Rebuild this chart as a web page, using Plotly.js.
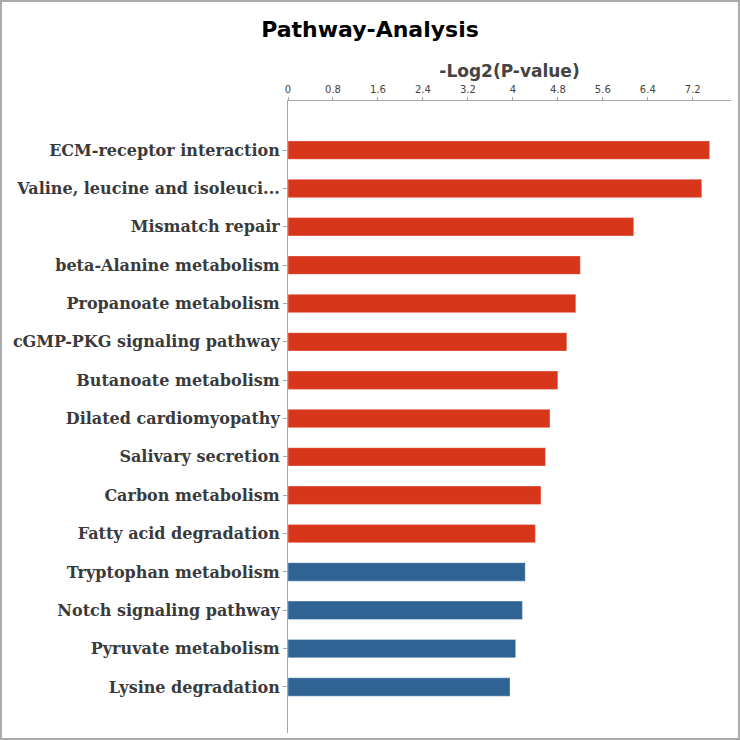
<!DOCTYPE html>
<html>
<head>
<meta charset="utf-8">
<script src="https://cdn.plot.ly/plotly-3.0.1.min.js"></script>
<style>
html,body{margin:0;padding:0;background:#fff;}
#frame{width:740px;height:740px;box-sizing:border-box;border:2px solid #aaaaaa;overflow:hidden;}
#chart{width:736px;height:736px;}
</style>
</head>
<body>
<div id="frame"><div id="chart"></div></div>
<script>
var pathways = [
  "ECM-receptor interaction",
  "Valine, leucine and isoleuci...",
  "Mismatch repair",
  "beta-Alanine metabolism",
  "Propanoate metabolism",
  "cGMP-PKG signaling pathway",
  "Butanoate metabolism",
  "Dilated cardiomyopathy",
  "Salivary secretion",
  "Carbon metabolism",
  "Fatty acid degradation",
  "Tryptophan metabolism",
  "Notch signaling pathway",
  "Pyruvate metabolism",
  "Lysine degradation"
];
var negLog2P = [7.50, 7.36, 6.15, 5.20, 5.12, 4.96, 4.80, 4.66, 4.58, 4.50, 4.40, 4.22, 4.17, 4.05, 3.95];
var groups = ["red","red","red","red","red","red","red","red","red","red","red","blue","blue","blue","blue"];
var groupColors = {red: "#d7361b", blue: "#2f6394"};

var trace = {
  type: "bar",
  orientation: "h",
  y: pathways,
  x: negLog2P,
  width: 0.48,
  marker: {
    color: groups.map(function(g){ return groupColors[g]; }),
    line: {color: "rgba(255,255,255,0.35)", width: 1}
  },
  hoverinfo: "x+y"
};

var layout = {
  width: 736,
  height: 736,
  paper_bgcolor: "#ffffff",
  plot_bgcolor: "#ffffff",
  margin: {l: 286, r: 7, t: 99, b: 5},
  showlegend: false,
  title: {
    text: "<b>Pathway-Analysis</b>",
    font: {family: "DejaVu Sans", size: 22, color: "#000000"},
    x: 0.5, xanchor: "center",
    y: 1 - 27/736, yref: "container", yanchor: "middle"
  },
  xaxis: {
    side: "top",
    range: [0, 7.88],
    dtick: 0.8,
    tick0: 0,
    showgrid: false,
    zeroline: false,
    showline: true,
    linecolor: "#a8a8a8",
    linewidth: 1,
    ticks: "outside",
    ticklen: 3,
    tickcolor: "#a8a8a8",
    tickfont: {family: "DejaVu Sans", size: 10, color: "#444444"},
    title: {
      text: "<b>-Log2(P-value)</b>",
      font: {family: "DejaVu Sans", size: 17, color: "#444444"},
      standoff: 2
    }
  },
  yaxis: {
    type: "category",
    categoryorder: "array",
    categoryarray: pathways,
    range: [15.2, -1.28],
    showgrid: false,
    zeroline: false,
    showline: true,
    linecolor: "#a8a8a8",
    linewidth: 1,
    ticks: "outside",
    ticklen: 4,
    tickcolor: "#a8a8a8",
    tickfont: {family: "DejaVu Serif", size: 16, color: "#3a3a3a", weight: "bold"}
  }
};

Plotly.newPlot("chart", [trace], layout, {displayModeBar: false, staticPlot: true});
</script>
</body>
</html>
